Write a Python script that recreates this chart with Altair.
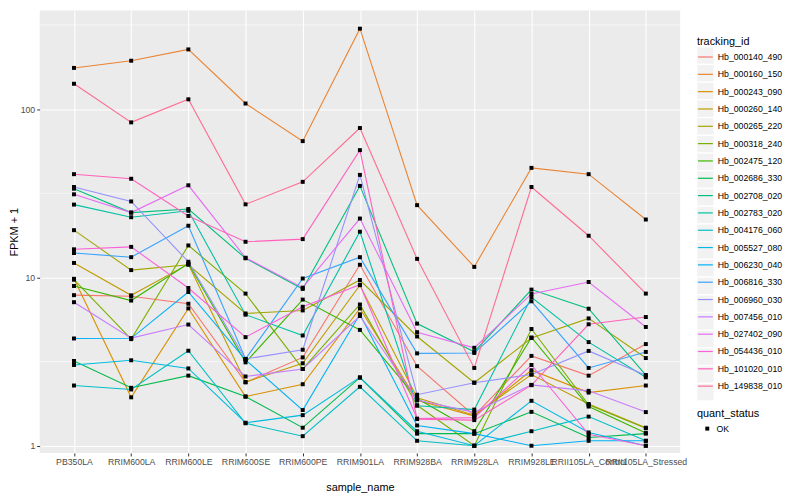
import altair as alt
import pandas as pd

samples = ["PB350LA", "RRIM600LA", "RRIM600LE", "RRIM600SE", "RRIM600PE", "RRIM901LA",
           "RRIM928BA", "RRIM928LA", "RRIM928LE", "RRII105LA_Control", "RRII105LA_Stressed"]

tracking_ids = ["Hb_000140_490", "Hb_000160_150", "Hb_000243_090", "Hb_000260_140",
                "Hb_000265_220", "Hb_000318_240", "Hb_002475_120", "Hb_002686_330",
                "Hb_002708_020", "Hb_002783_020", "Hb_004176_060", "Hb_005527_080",
                "Hb_006230_040", "Hb_006816_330", "Hb_006960_030", "Hb_007456_010",
                "Hb_027402_090", "Hb_054436_010", "Hb_101020_010", "Hb_149838_010"]

colors = ["#F8766D", "#EA8331", "#D89000", "#C09B00", "#A3A500", "#7CAE00", "#39B600",
          "#00BB4E", "#00BF7D", "#00C1A3", "#00BFC4", "#00BAE0", "#00B0F6", "#35A2FF",
          "#9590FF", "#C77CFF", "#E76BF3", "#FA62DB", "#FF62BC", "#FF6C91"]

# FPKM + 1 per sample (same order as samples)
hb_000140_490 = [7.85, 7.73, 6.98, 2.38, 3.35, 11.9, 2.97, 1.51, 3.42, 2.61, 4.02]
hb_000160_150 = [175.9, 194.1, 226.6, 108.1, 64.6, 301.0, 26.9, 11.56, 44.8, 41.1, 22.1]
hb_000243_090 = [9.82, 1.94, 6.55, 1.96, 2.32, 6.55, 1.86, 1.50, 2.81, 2.07, 2.28]
hb_000260_140 = [12.2, 7.83, 12.0, 2.39, 3.09, 9.0, 1.93, 1.52, 2.65, 1.77, 1.28]
hb_000265_220 = [19.1, 11.06, 11.9, 6.11, 6.37, 9.66, 4.46, 2.37, 4.37, 5.71, 3.32]
hb_000318_240 = [9.7, 4.30, 15.5, 8.02, 2.86, 6.91, 1.74, 1.0, 4.94, 1.75, 1.27]
hb_002475_120 = [8.90, 7.29, 12.1, 3.13, 7.39, 4.88, 1.91, 1.22, 4.4, 1.71, 1.19]
hb_002686_330 = [3.19, 2.21, 2.61, 1.96, 1.28, 2.54, 1.18, 1.18, 1.59, 1.12, 1.18]
hb_002708_020 = [33.7, 24.3, 25.5, 13.0, 8.55, 35.0, 5.32, 3.62, 8.47, 6.52, 2.63]
hb_002783_020 = [27.1, 22.8, 24.9, 6.01, 4.52, 18.7, 1.73, 1.64, 7.63, 4.13, 2.55]
hb_004176_060 = [2.28, 2.16, 3.67, 1.36, 1.14, 2.24, 1.07, 1.0, 1.22, 1.49, 1.07]
hb_005527_080 = [3.02, 3.22, 2.88, 1.37, 1.52, 2.55, 1.22, 1.0, 1.85, 1.20, 1.0]
hb_006230_040 = [4.34, 4.35, 8.20, 3.24, 1.63, 6.04, 1.32, 1.18, 1.0, 1.07, 1.07]
hb_006816_330 = [13.97, 13.2, 20.3, 3.28, 9.86, 13.2, 3.54, 3.56, 7.22, 2.90, 3.61]
hb_006960_030 = [34.5, 28.3, 12.4, 3.28, 3.72, 40.7, 2.01, 2.37, 2.65, 3.66, 2.62]
hb_007456_010 = [7.13, 4.36, 5.25, 2.58, 2.86, 5.90, 1.87, 1.58, 2.30, 2.12, 1.585]
hb_027402_090 = [31.2, 24.3, 35.3, 13.1, 8.70, 22.4, 4.73, 3.82, 7.98, 9.40, 5.08]
hb_054436_010 = [14.7, 15.2, 8.66, 4.42, 6.70, 9.06, 1.45, 1.47, 3.02, 1.17, 1.0]
hb_101020_010 = [41.1, 38.6, 23.2, 16.3, 16.9, 57.1, 1.44, 1.42, 2.29, 5.27, 5.82]
hb_149838_010 = [141.6, 83.5, 114.5, 27.2, 37.0, 77.3, 12.9, 2.90, 34.5, 17.7, 8.02]

series = [hb_000140_490, hb_000160_150, hb_000243_090, hb_000260_140, hb_000265_220,
          hb_000318_240, hb_002475_120, hb_002686_330, hb_002708_020, hb_002783_020,
          hb_004176_060, hb_005527_080, hb_006230_040, hb_006816_330, hb_006960_030,
          hb_007456_010, hb_027402_090, hb_054436_010, hb_101020_010, hb_149838_010]

y_ticks = [1, 10, 100]
y_minor = [3.1623, 31.623, 316.23]

key_ids = [t + "_key" for t in tracking_ids]

rows = []
for tid, kid, vals in zip(tracking_ids, key_ids, series):
    for s, v in zip(samples, vals):
        rows.append({"tracking_id": tid, "key_bg": kid, "sample_name": s, "fpkm": v,
                     "quant_status": "OK"})
df = pd.DataFrame(rows)

FONT = "Liberation Sans"
lo, hi = 0.906, 386.0

x_enc = alt.X("sample_name:N", sort=samples,
              scale=alt.Scale(type="point", padding=0.6),
              axis=alt.Axis(title="sample_name", labelAngle=0, labelOverlap=False,
                            grid=True, gridColor="white", gridWidth=1.1,
                            domain=False, tickColor="#333333", tickSize=3, tickWidth=1,
                            labelColor="#4D4D4D", labelFontSize=8.8, labelFont=FONT,
                            labelPadding=2, titleFontSize=11, titleFont=FONT,
                            titleFontWeight="normal", titleColor="black", titlePadding=15))

y_scale = alt.Scale(type="log", domain=[lo, hi], nice=False)
y_axis = alt.Axis(title="FPKM + 1", values=y_ticks, format="d",
                  grid=True, gridColor="white", gridWidth=1.1,
                  domain=False, tickColor="#333333", tickSize=3, tickWidth=1,
                  labelColor="#4D4D4D", labelFontSize=8.8, labelFont=FONT,
                  labelPadding=2, titleFontSize=11, titleFont=FONT,
                  titleFontWeight="normal", titleColor="black", titlePadding=1)
y_enc = alt.Y("fpkm:Q", scale=y_scale, axis=y_axis)

minor = alt.Chart(pd.DataFrame({"fpkm": y_minor})).mark_rule(
    color="white", strokeWidth=0.55).encode(y=y_enc)

# invisible layer that only supplies the grey legend key backgrounds
keys = alt.Chart(df).mark_square(opacity=0, size=270).encode(
    x=x_enc, y=y_enc,
    color=alt.Color("key_bg:N",
                    scale=alt.Scale(domain=key_ids, range=["#F2F2F2"] * len(key_ids)),
                    legend=alt.Legend(title=" ", orient="none", legendX=664, legendY=24.5,
                                      symbolType="square", symbolSize=270, symbolStrokeWidth=0,
                                      symbolOpacity=1, rowPadding=0.9, labelFontSize=8.8,
                                      labelFont=FONT, labelExpr="''", labelOffset=4,
                                      titleFontSize=11, titleFont=FONT,
                                      titleFontWeight="normal", titlePadding=1.5)))

lines = alt.Chart(df).mark_line(strokeWidth=1.1).encode(
    x=x_enc, y=y_enc,
    stroke=alt.Stroke("tracking_id:N",
                      scale=alt.Scale(domain=tracking_ids, range=colors),
                      legend=alt.Legend(title="tracking_id", orient="none", legendX=664, legendY=26,
                                        symbolType="stroke", symbolSize=225, symbolStrokeWidth=1.2,
                                        rowPadding=3.5, labelFontSize=8.8, labelFont=FONT,
                                        labelColor="black", labelOffset=4, labelLimit=200,
                                        titleFontSize=11, titleFont=FONT, titleFontWeight="normal",
                                        titlePadding=1.5, titleColor="black")),
    detail="tracking_id:N")

points = alt.Chart(df).mark_point(filled=True, shape="square", size=16, opacity=1,
                                  color="black").encode(
    x=x_enc, y=y_enc,
    shape=alt.Shape("quant_status:N", scale=alt.Scale(domain=["OK"], range=["square"]),
                    legend=alt.Legend(title="quant_status", orient="none", legendX=664, legendY=402,
                                      symbolOffset=6, labelOffset=5, symbolSize=16,
                                      symbolFillColor="black", symbolStrokeColor="black",
                                      labelFontSize=8.8, labelFont=FONT, labelColor="black",
                                      titleFontSize=11, titleFont=FONT, titleFontWeight="normal",
                                      titlePadding=5, titleColor="black")))

chart = alt.layer(minor, keys, lines, points).properties(
    width=647, height=447,
    autosize=alt.AutoSizeParams(type="none"),
    padding={"left": 32, "top": 0, "right": 113, "bottom": 44},
).configure_view(fill="#EBEBEB", strokeWidth=0)

chart.save("out.html", embed_options={"renderer": "svg", "actions": False})
